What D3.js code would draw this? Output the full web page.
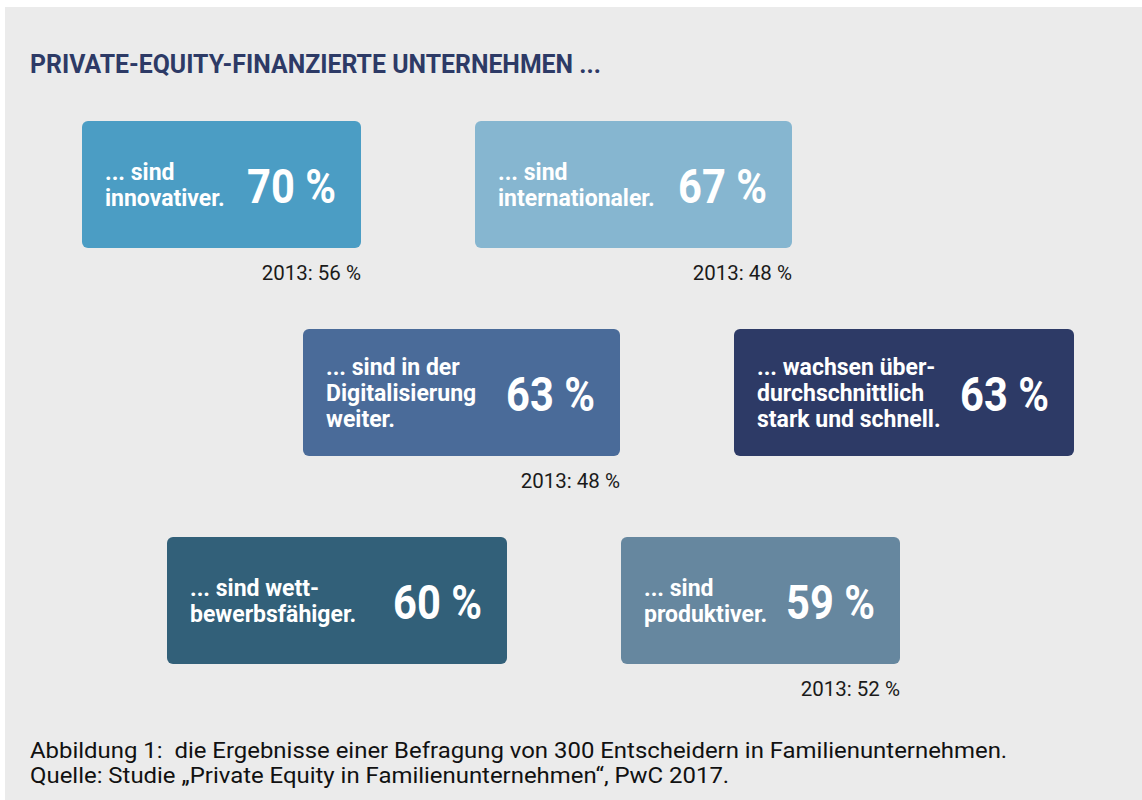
<!DOCTYPE html>
<html>
<head>
<meta charset="utf-8">
<script src="https://cdn.jsdelivr.net/npm/d3@7"></script>
<style>
  html, body { margin: 0; padding: 0; background: #ffffff; }
  svg { display: block; font-family: Roboto, "Noto Sans", sans-serif; }
  .caption { white-space: pre; }
</style>
</head>
<body>
<div id="chart"></div>
<script>
// Data
var title = 'PRIVATE-EQUITY-FINANZIERTE UNTERNEHMEN ...'
var labels = [
  ['... sind', 'innovativer.'],
  ['... sind', 'internationaler.'],
  ['... sind in der', 'Digitalisierung', 'weiter.'],
  ['... wachsen über-', 'durchschnittlich', 'stark und schnell.'],
  ['... sind wett-', 'bewerbsfähiger.'],
  ['... sind', 'produktiver.']
]
var values = [70, 67, 63, 63, 60, 59]
var prior = [56, 48, 48, null, null, 52]
var priorYear = '2013'
var rows = [0, 0, 1, 1, 2, 2]
var captions = [
  'Abbildung 1:  die Ergebnisse einer Befragung von 300 Entscheidern in Familienunternehmen.',
  'Quelle: Studie „Private Equity in Familienunternehmen“, PwC 2017.'
]

// Layout of the tiles (left edge + width per tile)
var slots = [
  { x: 82, w: 279 },
  { x: 475, w: 317 },
  { x: 303, w: 317 },
  { x: 734, w: 340 },
  { x: 167, w: 340 },
  { x: 621, w: 279 }
]
var boxHeight = 127
var width = 1142
var height = 800
var titleWidth = 571
var captionWidth = 978

var svg = d3.select('#chart').append('svg')
  .attr('width', width)
  .attr('height', height)

// Background panel
svg.append('rect')
  .attr('x', 5)
  .attr('y', 7)
  .attr('width', width - 5)
  .attr('height', height - 7)
  .attr('fill', '#ebebeb')

// Scales
var yScale = d3.scalePoint()
  .domain([0, 1, 2])
  .range([121, 537])

var color = d3.scaleOrdinal()
  .domain(d3.range(values.length))
  .range(['#4b9dc4', '#86b6d0', '#4a6b99', '#2d3a66', '#326079', '#66879f'])

var fmt = function (v) { return v + ' %' }

// Title (condensed look: squeeze to the width of the original)
var titleText = svg.append('text')
  .attr('class', 'title')
  .attr('font-size', 25)
  .attr('font-weight', 700)
  .attr('fill', '#2d3a66')
  .text(title)
var tw = titleText.node().getComputedTextLength()
titleText.attr('transform', 'translate(30,73) scale(' + (titleWidth / tw) + ',1)')

// Tiles
var data = values.map(function (v, i) {
  return { i: i, value: v, prior: prior[i], lines: labels[i], row: rows[i] }
})

var tiles = svg.selectAll('.tile')
  .data(data)
  .enter().append('g')
  .attr('class', 'tile')
  .attr('transform', function (d) {
    return 'translate(' + slots[d.i].x + ',' + yScale(d.row) + ')'
  })

tiles.append('rect')
  .attr('width', function (d) { return slots[d.i].w })
  .attr('height', boxHeight)
  .attr('rx', 6)
  .attr('fill', function (d) { return color(d.i) })

var lineH = 26
tiles.append('text')
  .attr('fill', '#ffffff')
  .attr('font-size', 23)
  .attr('font-weight', 700)
  .attr('y', function (d) {
    return boxHeight / 2 + 8 - (d.lines.length - 1) * lineH / 2
  })
  .selectAll('tspan')
  .data(function (d) { return d.lines })
  .enter().append('tspan')
  .attr('x', 23)
  .attr('dy', function (d, j) { return j === 0 ? 0 : lineH })
  .text(function (d) { return d })

tiles.append('text')
  .attr('fill', '#ffffff')
  .attr('font-size', 49)
  .attr('font-weight', 700)
  .attr('text-anchor', 'end')
  .attr('transform', function (d) {
    return 'translate(' + (slots[d.i].w - 25) + ',' + (boxHeight / 2 + 18) + ') scale(0.85,1)'
  })
  .text(function (d) { return fmt(d.value) })

tiles.filter(function (d) { return d.prior != null })
  .append('text')
  .attr('fill', '#1a1a1a')
  .attr('font-size', 20.5)
  .attr('text-anchor', 'end')
  .attr('x', function (d) { return slots[d.i].w })
  .attr('y', boxHeight + 32)
  .text(function (d) { return priorYear + ': ' + fmt(d.prior) })

// Captions
var caps = svg.selectAll('.caption')
  .data(captions)
  .enter().append('text')
  .attr('class', 'caption')
  .attr('font-size', 22)
  .attr('fill', '#111111')
  .text(function (d) { return d })
var cw = caps.nodes()[0].getComputedTextLength()
caps.attr('transform', function (d, i) {
  return 'translate(30,' + (758 + i * 25) + ') scale(' + (captionWidth / cw) + ',1)'
})
</script>
</body>
</html>
